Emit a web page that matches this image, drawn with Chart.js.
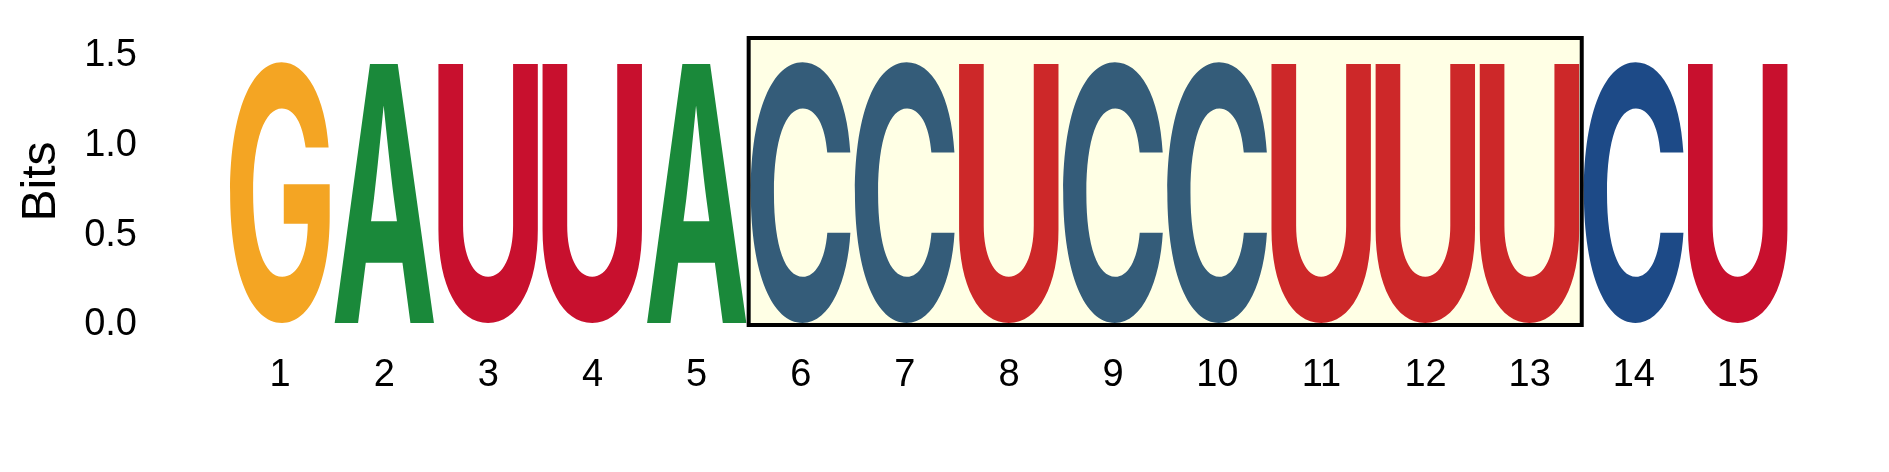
<!DOCTYPE html>
<html>
<head>
<meta charset="utf-8">
<script src="https://cdn.jsdelivr.net/npm/chart.js@4"></script>
<style>
  html, body { margin: 0; padding: 0; background: #fff; }
  #wrap { width: 1889px; height: 472px; }
</style>
</head>
<body>
<div id="wrap"><canvas id="logo"></canvas></div>
<script>
const positions = ['1','2','3','4','5','6','7','8','9','10','11','12','13','14','15'];
const letters = ['G','A','U','U','A','C','C','U','C','C','U','U','U','C','U'];
const bits = [1.46,1.46,1.46,1.46,1.46,1.46,1.46,1.46,1.46,1.46,1.46,1.46,1.46,1.46,1.46];
const yTicks = [0, 0.5, 1.0, 1.5];
const boxFrom = 6;   // first boxed position
const boxTo = 13;    // last boxed position
const boxTop = 1.6;

const letterColor = { G: '#f4a523', A: '#1a893a', U: '#c8102e', C: '#1d4a87' };
const glyphFont = 'bold 200px Inter, "Liberation Sans", Arial, sans-serif';

// dibuja cada letra estirada dentro del rectangulo de su barra
const logoLetters = {
  id: 'logoLetters',
  afterDatasetsDraw(chart) {
    const ctx = chart.ctx;
    const meta = chart.getDatasetMeta(0);
    meta.data.forEach((bar, i) => {
      const ch = letters[i];
      ctx.save();
      ctx.font = glyphFont;
      const m = ctx.measureText(ch);
      const inkL = -m.actualBoundingBoxLeft;
      const inkR = m.actualBoundingBoxRight;
      const inkT = -m.actualBoundingBoxAscent;
      const inkB = m.actualBoundingBoxDescent;
      const x0 = bar.x - bar.width / 2 + 2;
      const x1 = bar.x + bar.width / 2 - 2;
      const y0 = bar.y;
      const y1 = bar.base - 2;
      const sx = (x1 - x0) / (inkR - inkL);
      const sy = (y1 - y0) / (inkB - inkT);
      ctx.translate(x0, y0);
      ctx.scale(sx, sy);
      ctx.translate(-inkL, -inkT);
      ctx.fillStyle = letterColor[ch];
      ctx.textBaseline = 'alphabetic';
      ctx.textAlign = 'left';
      ctx.fillText(ch, 0, 0);
      ctx.restore();
    });

    // recuadro amarillo sobre las posiciones marcadas
    const xs = chart.scales.x, ys = chart.scales.y;
    const step = xs.getPixelForValue(1) - xs.getPixelForValue(0);
    const left = xs.getPixelForValue(boxFrom - 1) - step / 2;
    const right = xs.getPixelForValue(boxTo - 1) + step / 2;
    const top = ys.getPixelForValue(boxTop);
    const bottom = ys.getPixelForValue(0);
    ctx.save();
    ctx.fillStyle = 'rgba(255, 255, 0, 0.1)';
    ctx.fillRect(left, top, right - left, bottom - top);
    ctx.lineWidth = 4;
    ctx.strokeStyle = '#000';
    ctx.strokeRect(left, top, right - left, bottom - top);
    ctx.restore();
  }
};

new Chart(document.getElementById('logo'), {
  type: 'bar',
  data: {
    labels: positions,
    datasets: [{
      data: bits,
      backgroundColor: 'rgba(0,0,0,0)',
      borderWidth: 0,
      barPercentage: 1,
      categoryPercentage: 1
    }]
  },
  options: {
    responsive: true,
    maintainAspectRatio: false,
    devicePixelRatio: 1,
    animation: false,
    layout: { padding: { top: 38, right: 99, bottom: 0, left: 0 } },
    plugins: { legend: { display: false }, tooltip: { enabled: false } },
    scales: {
      x: {
        grid: { display: false, drawTicks: false },
        border: { display: false },
        ticks: {
          color: '#000',
          padding: 28,
          maxRotation: 0,
          autoSkip: false,
          font: { family: '"Liberation Sans", Arial, sans-serif', size: 38 }
        },
        afterFit(scale) { scale.height = 147; }
      },
      y: {
        min: 0,
        max: boxTop,
        grid: { display: false, drawTicks: false },
        border: { display: false },
        afterBuildTicks(scale) { scale.ticks = yTicks.map(v => ({ value: v })); },
        ticks: {
          color: '#000',
          padding: 91,
          callback: v => v.toFixed(1),
          font: { family: '"Liberation Sans", Arial, sans-serif', size: 38 }
        },
        title: {
          display: true,
          text: 'Bits',
          color: '#000',
          padding: { top: 13, bottom: 0 },
          font: { family: '"Liberation Sans", Arial, sans-serif', size: 48 }
        },
        afterFit(scale) {
          scale.width = 228;
          scale.paddingTop = 0;
          scale.paddingBottom = 0;
        }
      }
    }
  },
  plugins: [logoLetters]
});
</script>
</body>
</html>
